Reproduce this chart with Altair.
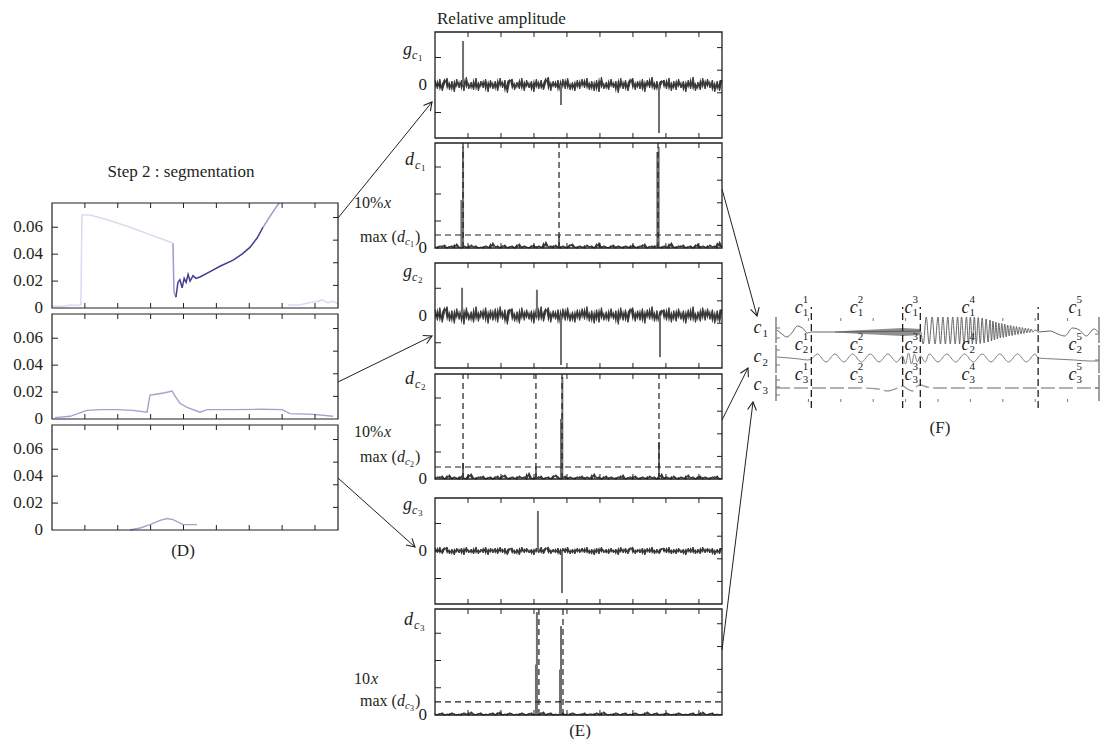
import math
import altair as alt
import pandas as pd

W, H, M = 1092, 731, 8
SERIF = "Liberation Serif"
INK = "#231f20"

# ================= DATA =================
# ---- (D) Step 2 : segmentation ----
D_XTICKS = [1, 2, 3, 4, 5, 6, 7, 8]
D_YTICKS = [0, 0.02, 0.04, 0.06]
D_YTICK_LABELS = ["0", "0.02", "0.04", "0.06"]
D_YTICKS_RIGHT = [0.0168, 0.0336, 0.0504, 0.0672]

D1_SEG_SHADE = ["faint", "mid", "dark", "mid", "faint"]
D1_SEG_X = [
    [0, 0.24, 0.55, 0.88, 0.91, 1.16, 1.46, 1.76, 2.37, 2.98, 3.59, 3.68],
    [3.68, 3.71, 3.77],
    [3.77, 3.83, 3.89, 3.96, 4.02, 4.08, 4.14, 4.20, 4.29, 4.38, 4.50, 4.81, 5.11, 5.51, 5.78, 6.02, 6.24, 6.42],
    [6.42, 6.63, 6.85, 6.91],
    [7.18, 7.55, 7.85, 8.09, 8.21, 8.40, 8.55, 8.70],
]
D1_SEG_Y = [
    [0.0015, 0.0012, 0.002, 0.0022, 0.069, 0.069, 0.067, 0.065, 0.060, 0.0545, 0.049, 0.048],
    [0.048, 0.012, 0.008],
    [0.008, 0.019, 0.021, 0.015, 0.022, 0.019, 0.025, 0.020, 0.024, 0.022, 0.023, 0.027, 0.031, 0.0355, 0.040, 0.045, 0.052, 0.060],
    [0.060, 0.068, 0.076, 0.078],
    [0.002, 0.0025, 0.004, 0.005, 0.006, 0.004, 0.005, 0.003],
]
D_SHADES = ["faint", "mid", "dark"]
D_SHADE_COLORS = ["#dadaee", "#9c9ccc", "#3f3f8e"]

D2_X = [0.09, 0.55, 1.06, 1.46, 1.98, 2.46, 2.89, 2.98, 3.07, 3.44, 3.65, 3.77, 3.89, 4.11, 4.50, 4.72, 5.51, 6.33, 7.00, 7.24, 7.94, 8.55]
D2_Y = [0.001, 0.002, 0.0064, 0.007, 0.007, 0.0064, 0.005, 0.0177, 0.018, 0.0195, 0.0208, 0.016, 0.0117, 0.0087, 0.005, 0.007, 0.007, 0.0072, 0.007, 0.004, 0.0034, 0.002]
D3_X = [2.37, 2.68, 2.98, 3.29, 3.50, 3.68, 3.99, 4.41]
D3_Y = [0, 0.0015, 0.004, 0.0072, 0.0085, 0.0077, 0.004, 0.004]

# ---- (E) Relative amplitude ----
E_XTICKS = [1, 2, 3, 4, 5, 6, 7, 8]
G_LEFT_TICKS = [-27.5, 0, 27.5]
G_RIGHT_TICKS = [-30.4, -7.8, 14.8, 37.4]
DD_LEFT_TICKS = [0, 27, 54, 81]
DD_RIGHT_TICKS = [22.6, 45.2, 67.8, 90.4]

G1_NOISE = [5, -4, 6, -6, 2, 7, -5, 4, -7, 6, -3, 5, -6, 8, -4, 3, -5, 7, -6, 4,
            -3, 6, -7, 5, -4, 4, -6, 7, -3, 5, -8, 4, 6, -5, 3, -4, 7, -6, 5, -3,
            4, -7, 6, -4, 5, -5, 3, 8, -6, 4, -3, 5, -7, 6, -4, 7, -5, 3, -6, 5,
            -4, 6, -3, 7, -5, 4, -6, 5, -7, 8, -4, 3, -5, 6, -3, 4, -8, 7, -4, 5,
            -6, 3, 7, -5, 4, -4, 6, -7, 5, -3, 8, -5, 4, -6, 3, 5, -4, 7, -6, 4,
            -5, 6, -3, 4, -7, 5, -4, 8, -6, 3, -5, 7, -4, 6, -3, 5, -7, 4, -6, 5]
G2_NOISE = [6, -5, 8, -7, 4, 9, -6, 5, -8, 7, -4, 6, -9, 8, -5, 4, -7, 9, -6, 5,
            -4, 8, -8, 6, -5, 7, -7, 9, -4, 6, -9, 5, 7, -6, 4, -8, 8, -5, 6, -4,
            5, -8, 7, -5, 9, -6, 4, 8, -7, 5, -4, 6, -9, 7, -5, 8, -6, 4, -7, 6,
            -5, 7, -4, 9, -6, 5, -8, 6, -7, 8, -5, 4, -6, 7, -4, 5, -9, 8, -5, 6,
            -7, 4, 8, -6, 5, -5, 7, -8, 6, -4, 9, -6, 5, -7, 4, 6, -5, 8, -7, 5,
            -6, 7, -4, 5, -8, 6, -5, 9, -7, 4, -6, 8, -5, 7, -4, 6, -8, 5, -7, 6]
G3_NOISE = [3, -2, 4, -3, 2, 4, -3, 2, -4, 3, -2, 3, -4, 4, -2, 2, -3, 4, -3, 2,
            -2, 4, -4, 3, -2, 3, -3, 4, -2, 3, -4, 2, 3, -3, 2, -4, 4, -2, 3, -2,
            2, -4, 3, -2, 4, -3, 2, 4, -3, 2, -2, 3, -4, 3, -2, 4, -3, 2, -3, 3,
            -2, 3, -2, 4, -3, 2, -4, 3, -3, 4, -2, 2, -3, 3, -2, 2, -4, 4, -2, 3,
            -3, 2, 4, -3, 2, -2, 3, -4, 3, -2, 4, -3, 2, -3, 2, 3, -2, 4, -3, 2,
            -3, 3, -2, 2, -4, 3, -2, 4, -3, 2, -3, 4, -2, 3, -2, 3, -4, 2, -3, 3]
DC1_NOISE = [1, 0, 2, 1, 3, 0, 1, 2, 0, 4, 1, 0, 2, 1, 0, 3, 1, 2, 0, 1,
             0, 2, 1, 0, 5, 1, 2, 0, 1, 3, 0, 1, 2, 0, 1, 4, 0, 2, 1, 0,
             1, 3, 0, 2, 1, 0, 6, 1, 2, 0, 3, 1, 0, 2, 1, 0, 2, 4, 1, 0,
             2, 1, 0, 3, 1, 2, 0, 1, 5, 0, 2, 1, 0, 1, 3, 0, 2, 1, 0, 2,
             1, 0, 3, 1, 0, 2, 1, 4, 0, 1, 2, 0, 3, 1, 0, 2, 1, 0, 5, 1,
             0, 2, 1, 3, 0, 1, 2, 0, 1, 4, 0, 2, 1, 0, 3, 1, 2, 0, 6, 1]
DC2_NOISE = [0, 2, 1, 3, 0, 1, 4, 0, 2, 1, 0, 3, 1, 0, 2, 5, 1, 0, 2, 1,
             3, 0, 1, 2, 0, 1, 3, 0, 2, 4, 1, 0, 2, 1, 0, 3, 1, 2, 0, 6,
             1, 0, 2, 1, 3, 0, 1, 2, 0, 1, 4, 2, 0, 1, 3, 0, 2, 1, 0, 2,
             1, 3, 0, 2, 1, 0, 5, 1, 2, 0, 1, 3, 0, 2, 1, 0, 2, 1, 4, 0,
             1, 2, 0, 3, 1, 0, 2, 1, 0, 3, 1, 2, 0, 1, 5, 0, 2, 1, 0, 3,
             1, 0, 2, 1, 0, 4, 1, 2, 0, 1, 3, 0, 2, 1, 0, 2, 1, 3, 0, 1]
DC3_NOISE = [1, 0, 1, 2, 0, 1, 0, 2, 1, 0, 1, 0, 2, 1, 0, 3, 1, 0, 1, 2,
             0, 1, 0, 1, 2, 0, 1, 3, 0, 1, 0, 2, 1, 0, 1, 0, 2, 1, 0, 1,
             2, 0, 1, 0, 1, 3, 0, 1, 2, 0, 1, 0, 1, 2, 0, 1, 0, 2, 1, 0,
             1, 0, 2, 0, 1, 1, 0, 2, 1, 0, 3, 1, 0, 1, 0, 2, 1, 0, 1, 2,
             0, 1, 0, 2, 1, 0, 1, 0, 3, 1, 0, 1, 2, 0, 1, 0, 2, 1, 0, 1,
             0, 2, 1, 0, 1, 0, 1, 2, 0, 1, 0, 3, 1, 0, 1, 2, 0, 1, 0, 1]

G1_SPK_X, G1_SPK_Y = [0.85, 3.82, 6.79], [44, -20, -48]
DC1_SPK_X, DC1_SPK_Y = [0.80, 0.85, 3.76, 6.74, 6.78], [48, 101, 12, 96, 101]
G2_SPK_X, G2_SPK_Y = [0.82, 3.09, 3.82, 6.82], [28, 26, -50, -42]
DC2_SPK_X, DC2_SPK_Y = [0.85, 3.06, 3.82, 3.86, 6.79], [16, 11, 60, 102, 37]
G3_SPK_X, G3_SPK_Y = [3.12, 3.85], [40, -42]
DC3_SPK_X, DC3_SPK_Y = [3.06, 3.09, 3.79, 3.82], [50, 102, 45, 88]

DC1_MARKS, DC1_THRESH = [0.85, 3.76, 6.76], 13
DC2_MARKS, DC2_THRESH = [0.85, 3.06, 3.85, 6.79], 12
DC3_MARKS, DC3_THRESH = [3.15, 3.88], 13

# ---- (F) segmented signals c1, c2, c3 ----
F_XTICKS = [33, 66, 99, 132, 165, 198, 231, 264, 297]
F_BOUNDS = [36, 129, 147, 267]
F_ROW_BASE = [70, 44, 14]

F_C1_X = [1, 6, 11, 16, 22, 28, 32, 36, 60,
          147, 150, 153, 156, 159, 162, 165, 167.5, 170, 172.5, 175, 177.5, 180, 182.5, 185,
          187, 189, 191.5, 194, 196, 198, 200, 202, 204, 206, 208, 210, 212, 214, 216, 218,
          219.5, 221, 222.5, 224, 225.5, 227, 228.5, 230, 231.5, 233, 234.5, 236, 237.5, 239,
          240.5, 242, 243.5, 245, 246.5, 248, 249.5, 251, 252.5, 254, 255.5, 257, 258.5, 260,
          261.5, 264, 267, 279, 287, 294, 302, 309, 316, 324, 329]
F_C1_A = [2, -2, -5, -1, 6, 3, -1, 0, 0,
          1, -12, 15, -12, 15, -12, 15, -12, 15, -12, 15, -12, 15, -12, 15,
          -12, 15, -12, 15, -12, 15, -12, 15, -12, 14.5, -11.5, 14, -11, 13, -10, 12,
          -9, 11, -8, 10, -7, 9, -6, 8.5, -5.5, 8, -5, 7, -4, 6.5,
          -3.5, 6, -3, 5.5, -2.5, 5, -2, 4.5, -1.5, 4, -1, 3.5, -0.5, 3,
          0, 2, 0, 1, -2, -4, 4, 2, -4, 3, -1]
F_C1_BAND_X = [60, 74, 89, 104, 119, 129, 139, 147]
F_C1_BAND_H = [0.5, 1.2, 2.0, 2.8, 3.5, 4.0, 3.5, 3.0]

F_C2_X = [1, 14, 24, 32, 36, 42, 51, 60, 69, 78, 87, 96, 105, 114, 123, 129, 132, 135, 138, 141,
          144, 147, 152, 156, 165, 174, 183, 192, 201, 210, 219, 228, 237, 246, 255, 264, 267, 284,
          304, 319, 329]
F_C2_A = [1, 0, -1, -2, -1, 4, -4, 4, -4, 4, -4, 4, -4, 4, -4, 2, -6, 5, -6, 4,
          -4, 2, -4, 4, -4, 4, -4, 4, -4, 4, -4, 4, -4, 4, -4, 4, 0, -1,
          -2, -3, -3]

F_C3_X = [0, 84, 104, 114, 124, 129, 134, 139, 144, 147, 154, 165, 329]
F_C3_A = [0, 0, -1, -3, 0, 2, -1, -3, 2, 3, 1, 0, 0]

F_LABEL_X = [19, 75, 131, 189, 298]
F_LABEL_BASELINE = [89, 52, 22]
F_ROWNAME_BASELINE = [69, 40, 12]

# ---- connectors (figure pixel coordinates) ----
ARROW_FROM = [(338, 218), (338, 382), (338, 478), (722, 189), (722, 420), (722, 650)]
ARROW_TO = [(432, 102), (432, 336), (415, 547), (757, 316), (748, 368), (753, 402)]

# ================= LAYOUT =================
D_BOX_X = (52, 338)
D_BOX_Y = [(203, 308), (314, 419), (425, 530)]
D_XDOM, D_YDOM = [0, 8.7], [0, 0.078]
E_BOX_X = (435, 722)
E_BOX_Y = [(32, 138), (143, 248), (263, 368), (374, 479), (498, 604), (609, 715)]
E_XDOM, G_YDOM, DD_YDOM = [0, 8.7], [-53, 53], [0, 105]
F_BOX_X, F_BOX_Y = (776, 1099), (318, 402)
F_XDOM, F_YDOM = [0, 329], [0, 84]

ONE = pd.DataFrame({"k": [0]})


def scale_x(dom, x0, x1):
    return alt.Scale(domain=dom, range=[x0 - M, x1 - M], nice=False, zero=False)


def scale_y(dom, top, bot):
    return alt.Scale(domain=dom, range=[bot - M, top - M], nice=False, zero=False)


def frame(xs, ys, xd, yd, sw=1.2):
    return alt.Chart(ONE).mark_rect(fillOpacity=0, stroke=INK, strokeWidth=sw).encode(
        x=alt.X(datum=xd[0], scale=xs, axis=None), x2=alt.X2(datum=xd[1]),
        y=alt.Y(datum=yd[0], scale=ys, axis=None), y2=alt.Y2(datum=yd[1]))


def ticks(vals, xs, ys, side, edge, size=5, color=INK):
    df = pd.DataFrame({"v": vals})
    if side in ("top", "bottom"):
        off = size / 2 if side == "top" else -size / 2
        return alt.Chart(df).mark_tick(orient="vertical", size=size, thickness=1, yOffset=off,
                                       color=color, opacity=1).encode(
            x=alt.X("v:Q", scale=xs, axis=None), y=alt.Y(datum=edge, scale=ys, axis=None))
    off = size / 2 if side == "left" else -size / 2
    return alt.Chart(df).mark_tick(orient="horizontal", size=size, thickness=1, xOffset=off,
                                   color=color, opacity=1).encode(
        x=alt.X(datum=edge, scale=xs, axis=None), y=alt.Y("v:Q", scale=ys, axis=None))


def tick_labels(vals, labels, xs, ys, edge_x, pad, size=17):
    df = pd.DataFrame({"v": vals, "t": labels})
    return alt.Chart(df).mark_text(font=SERIF, fontSize=size, color=INK, align="right",
                                   baseline="middle", dx=-pad).encode(
        x=alt.X(datum=edge_x, scale=xs, axis=None), y=alt.Y("v:Q", scale=ys, axis=None), text="t:N")


def noise_layers(noise, xs, ys, xmax, width=0.9):
    n = len(noise)
    xv = [xmax * j / (n - 1) for j in range(n)]
    nxt = noise[1:] + noise[-1:]
    df = pd.DataFrame({"x": xv, "y": noise, "y2": nxt})
    band = alt.Chart(df).mark_area(color="#1e1e1e", opacity=0.9).encode(
        x=alt.X("x:Q", scale=xs, axis=None), y=alt.Y("y:Q", scale=ys, axis=None), y2="y2:Q")
    line = alt.Chart(df).mark_line(color="#3a3a3a", strokeWidth=width).encode(
        x=alt.X("x:Q", scale=xs, axis=None), y=alt.Y("y:Q", scale=ys, axis=None))
    return [band, line]


# ---------------- (D) panels ----------------
d_panels = []
for i, (top, bot) in enumerate(D_BOX_Y):
    xs = scale_x(D_XDOM, *D_BOX_X)
    ys = scale_y(D_YDOM, top, bot)
    enc_x = alt.X("x:Q", scale=xs, axis=None)
    enc_y = alt.Y("y:Q", scale=ys, axis=None)
    if i == 0:
        rows = []
        for k, (sh, sx_, sy_) in enumerate(zip(D1_SEG_SHADE, D1_SEG_X, D1_SEG_Y)):
            for a, b in zip(sx_, sy_):
                rows.append({"seg": k, "shade": sh, "x": a, "y": b})
        line = alt.Chart(pd.DataFrame(rows)).mark_line(strokeWidth=1.5).encode(
            x=enc_x, y=enc_y,
            color=alt.Color("shade:N", scale=alt.Scale(domain=D_SHADES, range=D_SHADE_COLORS), legend=None),
            detail="seg:N")
    else:
        xv, yv = (D2_X, D2_Y) if i == 1 else (D3_X, D3_Y)
        line = alt.Chart(pd.DataFrame({"x": xv, "y": yv})).mark_line(
            strokeWidth=1.4, color="#a2a2cf").encode(x=enc_x, y=enc_y)
    d_panels.append(alt.layer(
        line,
        frame(xs, ys, D_XDOM, D_YDOM),
        ticks(D_XTICKS, xs, ys, "top", D_YDOM[1]),
        ticks(D_XTICKS, xs, ys, "bottom", D_YDOM[0]),
        ticks(D_YTICKS[1:], xs, ys, "left", D_XDOM[0], 6),
        ticks(D_YTICKS_RIGHT, xs, ys, "right", D_XDOM[1]),
        tick_labels(D_YTICKS, D_YTICK_LABELS, xs, ys, D_XDOM[0], 9),
    ))

# ---------------- (E) panels ----------------
E_SPECS = [
    ("g", G1_NOISE, G1_SPK_X, G1_SPK_Y, [], None),
    ("d", DC1_NOISE, DC1_SPK_X, DC1_SPK_Y, DC1_MARKS, DC1_THRESH),
    ("g", G2_NOISE, G2_SPK_X, G2_SPK_Y, [], None),
    ("d", DC2_NOISE, DC2_SPK_X, DC2_SPK_Y, DC2_MARKS, DC2_THRESH),
    ("g", G3_NOISE, G3_SPK_X, G3_SPK_Y, [], None),
    ("d", DC3_NOISE, DC3_SPK_X, DC3_SPK_Y, DC3_MARKS, DC3_THRESH),
]
e_panels = []
for (kind, noise, spx, spy, marks, thr), (top, bot) in zip(E_SPECS, E_BOX_Y):
    ydom = G_YDOM if kind == "g" else DD_YDOM
    xs = scale_x(E_XDOM, *E_BOX_X)
    ys = scale_y(ydom, top, bot)
    lt = G_LEFT_TICKS if kind == "g" else DD_LEFT_TICKS[1:]
    rt = G_RIGHT_TICKS if kind == "g" else DD_RIGHT_TICKS
    layers = noise_layers(noise, xs, ys, E_XDOM[1], 1.0 if kind == "g" else 1.1)
    layers.append(alt.Chart(pd.DataFrame({"x": spx, "b": [0] * len(spx), "p": spy})).mark_rule(
        color="#6f6f6f", strokeWidth=2).encode(
        x=alt.X("x:Q", scale=xs, axis=None), y=alt.Y("b:Q", scale=ys, axis=None), y2="p:Q"))
    if marks:
        layers.append(alt.Chart(pd.DataFrame({"v": marks})).mark_rule(
            color=INK, strokeWidth=1.2, strokeDash=[6, 4]).encode(
            x=alt.X("v:Q", scale=xs, axis=None),
            y=alt.Y(datum=ydom[0], scale=ys, axis=None), y2=alt.Y2(datum=ydom[1])))
    if thr is not None:
        layers.append(alt.Chart(pd.DataFrame({"v": [thr]})).mark_rule(
            color=INK, strokeWidth=1.2, strokeDash=[6, 4]).encode(
            y=alt.Y("v:Q", scale=ys, axis=None),
            x=alt.X(datum=E_XDOM[0], scale=xs, axis=None), x2=alt.X2(datum=E_XDOM[1])))
    layers += [
        frame(xs, ys, E_XDOM, ydom, 1.3),
        ticks(E_XTICKS, xs, ys, "top", ydom[1]),
        ticks(E_XTICKS, xs, ys, "bottom", ydom[0]),
        ticks(lt, xs, ys, "left", E_XDOM[0], 6),
        ticks(rt, xs, ys, "right", E_XDOM[1]),
        tick_labels([0], ["0"], xs, ys, E_XDOM[0], 8),
    ]
    e_panels.append(alt.layer(*layers))

# ---------------- (F) panel ----------------
fxs = scale_x(F_XDOM, *F_BOX_X)
fys = scale_y(F_YDOM, *F_BOX_Y)


def f_line(xv, av, base, color, width=1.0, dash=None):
    df = pd.DataFrame({"x": xv, "y": [base + a for a in av]})
    kw = dict(color=color, strokeWidth=width, interpolate="monotone")
    if dash:
        kw["strokeDash"] = dash
    return alt.Chart(df).mark_line(**kw).encode(
        x=alt.X("x:Q", scale=fxs, axis=None), y=alt.Y("y:Q", scale=fys, axis=None))


def f_text(xv, yv, tv, size, italic, dx=0, dy=0):
    df = pd.DataFrame({"x": xv, "y": yv, "t": tv})
    return alt.Chart(df).mark_text(font=SERIF, fontSize=size, fontStyle="italic" if italic else "normal",
                                   color=INK, align="left", baseline="alphabetic", dx=dx, dy=dy).encode(
        x=alt.X("x:Q", scale=fxs, axis=None), y=alt.Y("y:Q", scale=fys, axis=None), text="t:N")


band_df = pd.DataFrame({"x": F_C1_BAND_X,
                        "lo": [F_ROW_BASE[0] - h for h in F_C1_BAND_H],
                        "hi": [F_ROW_BASE[0] + h for h in F_C1_BAND_H]})
axis_seg = pd.DataFrame({"y0": [59, 29, 1], "y1": [85, 57, 27]})
lab_x, lab_y, lab_sup, lab_sub = [], [], [], []
for r, base in enumerate(F_LABEL_BASELINE):
    for s, xv in enumerate(F_LABEL_X):
        lab_x.append(xv)
        lab_y.append(base)
        lab_sup.append(str(s + 1))
        lab_sub.append(str(r + 1))

f_layers = [
    alt.Chart(band_df).mark_area(color="#6a6a6a", opacity=0.75).encode(
        x=alt.X("x:Q", scale=fxs, axis=None), y=alt.Y("lo:Q", scale=fys, axis=None), y2="hi:Q"),
    f_line(F_C1_X, F_C1_A, F_ROW_BASE[0], "#555555", 0.9),
    f_line(F_C2_X, F_C2_A, F_ROW_BASE[1], "#7c7c7c", 1.0),
    f_line(F_C3_X, F_C3_A, F_ROW_BASE[2], "#9a9a9a", 1.3, [14, 4]),
    alt.Chart(pd.DataFrame({"v": F_BOUNDS})).mark_rule(color=INK, strokeWidth=1.3, strokeDash=[7, 4]).encode(
        x=alt.X("v:Q", scale=fxs, axis=None),
        y=alt.Y(datum=-6, scale=fys, axis=None), y2=alt.Y2(datum=95)),
    alt.Chart(axis_seg).mark_rule(color="#8a8a8a", strokeWidth=1.6).encode(
        x=alt.X(datum=F_XDOM[0], scale=fxs, axis=None), y=alt.Y("y0:Q", scale=fys, axis=None), y2="y1:Q"),
    alt.Chart(axis_seg).mark_rule(color="#8a8a8a", strokeWidth=1.6).encode(
        x=alt.X(datum=F_XDOM[1], scale=fxs, axis=None), y=alt.Y("y0:Q", scale=fys, axis=None), y2="y1:Q"),
    ticks(F_XTICKS, fxs, fys, "top", F_YDOM[1], 3, "#777777"),
    ticks(F_XTICKS, fxs, fys, "bottom", F_YDOM[0], 3, "#777777"),
    ticks([74, 64, 52, 37, 22, 15, 7], fxs, fys, "left", F_XDOM[0], 4, "#777777"),
    ticks([68, 42, 14], fxs, fys, "right", F_XDOM[1], 4, "#777777"),
    f_text(lab_x, lab_y, ["c"] * len(lab_x), 18, True),
    f_text(lab_x, lab_y, lab_sup, 11, False, 8, -10),
    f_text(lab_x, lab_y, lab_sub, 11, False, 8, 3),
    f_text([-23] * 3, F_ROWNAME_BASELINE, ["c"] * 3, 18, True),
    f_text([-23] * 3, F_ROWNAME_BASELINE, ["1", "2", "3"], 11, False, 9, 4),
]
f_panel = alt.layer(*f_layers)

# ---------------- annotations (figure pixel coordinates) ----------------
AX = alt.Scale(domain=[0, 1108], range=[-M, 1108 - M], nice=False, zero=False)
AY = alt.Scale(domain=[0, 747], range=[-M, 747 - M], nice=False, zero=False)


def ann_text(items, size, italic=False, align="left"):
    df = pd.DataFrame(items, columns=["t", "x", "y"])
    return alt.Chart(df).mark_text(font=SERIF, fontSize=size, fontStyle="italic" if italic else "normal",
                                   color=INK, align=align, baseline="alphabetic").encode(
        x=alt.X("x:Q", scale=AX, axis=None), y=alt.Y("y:Q", scale=AY, axis=None), text="t:N")


TITLES_CENTER = [("Step 2 : segmentation", 181, 177), ("(D)", 183, 556), ("(E)", 580, 736), ("(F)", 940, 433)]
TITLES_LEFT = [("Relative amplitude", 437, 24)]
E_MAIN = [("g", 403, 55), ("g", 403, 277), ("g", 403, 510), ("d", 405, 165), ("d", 405, 384), ("d", 404, 625)]
E_SUB_C = [("c", 412, 59), ("c", 412, 281), ("c", 412, 514), ("c", 415, 169), ("c", 415, 388), ("c", 414, 629)]
E_SUB_N = [("1", 418, 61), ("2", 418, 283), ("3", 418, 516), ("1", 421, 171), ("2", 421, 390), ("3", 420, 631)]
THR_REG = [("10%", 354, 208), ("10%", 354, 437), ("10", 354, 684),
           ("max (", 360, 242), ("max (", 360, 462), ("max (", 360, 706),
           (")", 415, 242), (")", 415, 462), (")", 415, 706)]
THR_IT = [("x", 384, 208), ("x", 371, 684), ("x", 384, 437),
          ("d", 397, 242), ("d", 397, 462), ("d", 397, 706)]
THR_SUB_C = [("c", 405, 245), ("c", 405, 465), ("c", 405, 709)]
THR_SUB_N = [("1", 410, 247), ("2", 410, 467), ("3", 410, 711)]

arrow_df = pd.DataFrame({
    "x0": [a[0] for a in ARROW_FROM], "y0": [a[1] for a in ARROW_FROM],
    "x1": [b[0] for b in ARROW_TO], "y1": [b[1] for b in ARROW_TO],
})
arrow_df["ang"] = [math.degrees(math.atan2(b[1] - a[1], b[0] - a[0])) % 360 for a, b in zip(ARROW_FROM, ARROW_TO)]

ann = alt.layer(
    alt.Chart(arrow_df).mark_rule(color=INK, strokeWidth=1.0).encode(
        x=alt.X("x0:Q", scale=AX, axis=None), y=alt.Y("y0:Q", scale=AY, axis=None), x2="x1:Q", y2="y1:Q"),
    alt.Chart(arrow_df).mark_point(shape="M-1,-0.55L0,0L-1,0.55", filled=False, size=260, strokeWidth=1.1,
                                   color=INK, opacity=1).encode(
        x=alt.X("x1:Q", scale=AX, axis=None), y=alt.Y("y1:Q", scale=AY, axis=None),
        angle=alt.Angle("ang:Q", scale=None)),
    ann_text(TITLES_CENTER, 17, False, "center"),
    ann_text(TITLES_LEFT, 17),
    ann_text(E_MAIN, 18, True),
    ann_text(E_SUB_C, 12, True),
    ann_text(E_SUB_N, 9),
    ann_text(THR_REG, 16),
    ann_text(THR_IT, 16, True),
    ann_text(THR_SUB_C, 11, True),
    ann_text(THR_SUB_N, 8),
)

chart = alt.layer(*d_panels, *e_panels, f_panel, ann).resolve_scale(
    x="independent", y="independent"
).properties(
    width=W, height=H, padding=0, autosize=alt.AutoSizeParams(type="none"), background="white"
).configure_view(strokeWidth=0)

chart.save("out.html", embed_options={"renderer": "svg", "actions": False})
